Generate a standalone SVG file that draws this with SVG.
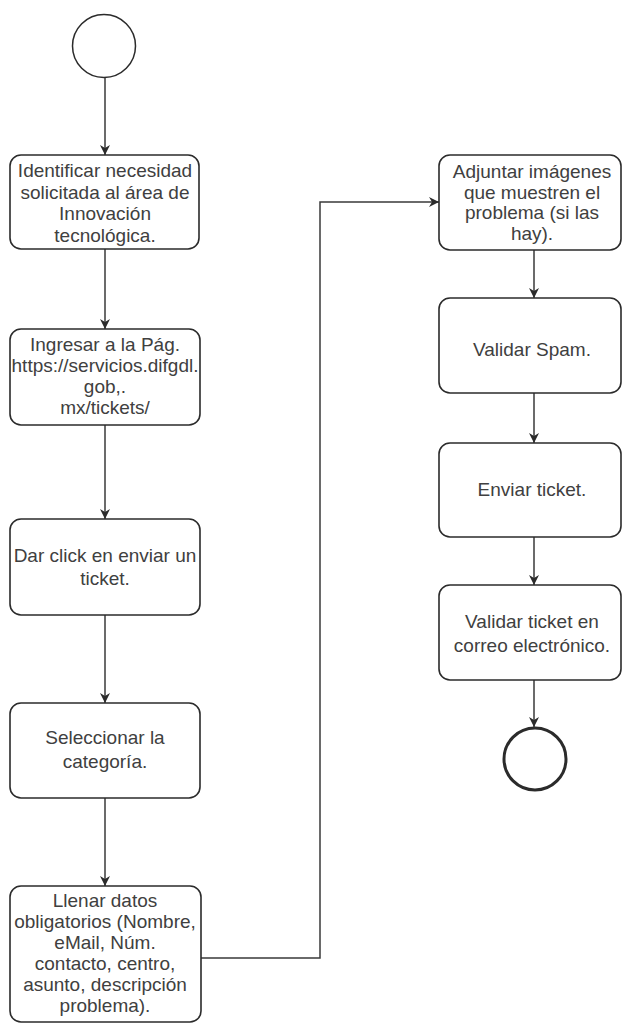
<svg xmlns="http://www.w3.org/2000/svg" width="623" height="1028" viewBox="0 0 623 1028">
<style>
.box{fill:#fff;stroke:#2b2b2b;stroke-width:1.6}
.lbl{font-family:"Liberation Sans",Arial,sans-serif;font-size:19px;fill:#404040;text-anchor:middle}
.con{fill:none;stroke:#3a3a3a;stroke-width:1.5}
</style>
<defs>
<marker id="arr" viewBox="0 0 10 10" refX="10" refY="5" markerWidth="10" markerHeight="10" markerUnits="userSpaceOnUse" orient="auto">
<path d="M0,0 L10,5 L0,10 L3,5 Z" fill="#2b2b2b"/>
</marker>
</defs>
<rect width="623" height="1028" fill="#fff"/>
<g id="connectors">
<line class="con" x1="105" y1="77" x2="105" y2="155" marker-end="url(#arr)"/>
<line class="con" x1="105" y1="249" x2="105" y2="329" marker-end="url(#arr)"/>
<line class="con" x1="105" y1="425" x2="105" y2="519" marker-end="url(#arr)"/>
<line class="con" x1="105" y1="615" x2="105" y2="703" marker-end="url(#arr)"/>
<line class="con" x1="105" y1="798" x2="105" y2="886" marker-end="url(#arr)"/>
<polyline class="con" points="201,958 320,958 320,202 439,202" marker-end="url(#arr)"/>
<line class="con" x1="534" y1="250" x2="534" y2="298" marker-end="url(#arr)"/>
<line class="con" x1="534" y1="393" x2="534" y2="443" marker-end="url(#arr)"/>
<line class="con" x1="534" y1="537" x2="534" y2="585" marker-end="url(#arr)"/>
<line class="con" x1="534" y1="680" x2="534" y2="727" marker-end="url(#arr)"/>
</g>
<g id="start"><circle cx="104" cy="46" r="31.5" fill="#fff" stroke="#2b2b2b" stroke-width="1.5"/></g>
<g id="n1"><rect class="box" x="10" y="155" width="189" height="94" rx="11"/>
<text class="lbl" x="105" y="177">Identificar necesidad</text>
<text class="lbl" x="105" y="198.5">solicitada al área de</text>
<text class="lbl" x="105" y="220">Innovación</text>
<text class="lbl" x="105" y="241.5">tecnológica.</text></g>
<g id="n2"><rect class="box" x="10" y="329" width="190" height="96" rx="11"/>
<text class="lbl" x="105" y="351">Ingresar a la Pág.</text>
<text class="lbl" x="105" y="372">https://servicios.difgdl.</text>
<text class="lbl" x="105" y="393">gob,.</text>
<text class="lbl" x="105" y="414">mx/tickets/</text></g>
<g id="n3"><rect class="box" x="10" y="519" width="190" height="96" rx="11"/>
<text class="lbl" x="105" y="562">Dar click en enviar un</text>
<text class="lbl" x="105" y="585">ticket.</text></g>
<g id="n4"><rect class="box" x="10" y="703" width="190" height="95" rx="11"/>
<text class="lbl" x="105" y="744">Seleccionar la</text>
<text class="lbl" x="105" y="768">categoría.</text></g>
<g id="n5"><rect class="box" x="10" y="886" width="191" height="136" rx="11"/>
<text class="lbl" x="105" y="907">Llenar datos</text>
<text class="lbl" x="105" y="928">obligatorios (Nombre,</text>
<text class="lbl" x="105" y="949">eMail, Núm.</text>
<text class="lbl" x="105" y="970">contacto, centro,</text>
<text class="lbl" x="105" y="991">asunto, descripción</text>
<text class="lbl" x="105" y="1012">problema).</text></g>
<g id="n6"><rect class="box" x="439" y="155" width="182" height="95" rx="11"/>
<text class="lbl" x="532" y="178">Adjuntar imágenes</text>
<text class="lbl" x="532" y="198.5">que muestren el</text>
<text class="lbl" x="532" y="219">problema (si las</text>
<text class="lbl" x="532" y="239.5">hay).</text></g>
<g id="n7"><rect class="box" x="439" y="298" width="182" height="95" rx="11"/>
<text class="lbl" x="532" y="356">Validar Spam.</text></g>
<g id="n8"><rect class="box" x="439" y="443" width="182" height="94" rx="11"/>
<text class="lbl" x="532" y="496">Enviar ticket.</text></g>
<g id="n9"><rect class="box" x="439" y="585" width="182" height="95" rx="11"/>
<text class="lbl" x="532" y="628">Validar ticket en</text>
<text class="lbl" x="532" y="652">correo electrónico.</text></g>
<g id="end"><circle cx="535" cy="759" r="31" fill="#fff" stroke="#2b2b2b" stroke-width="3"/></g>
</svg>
